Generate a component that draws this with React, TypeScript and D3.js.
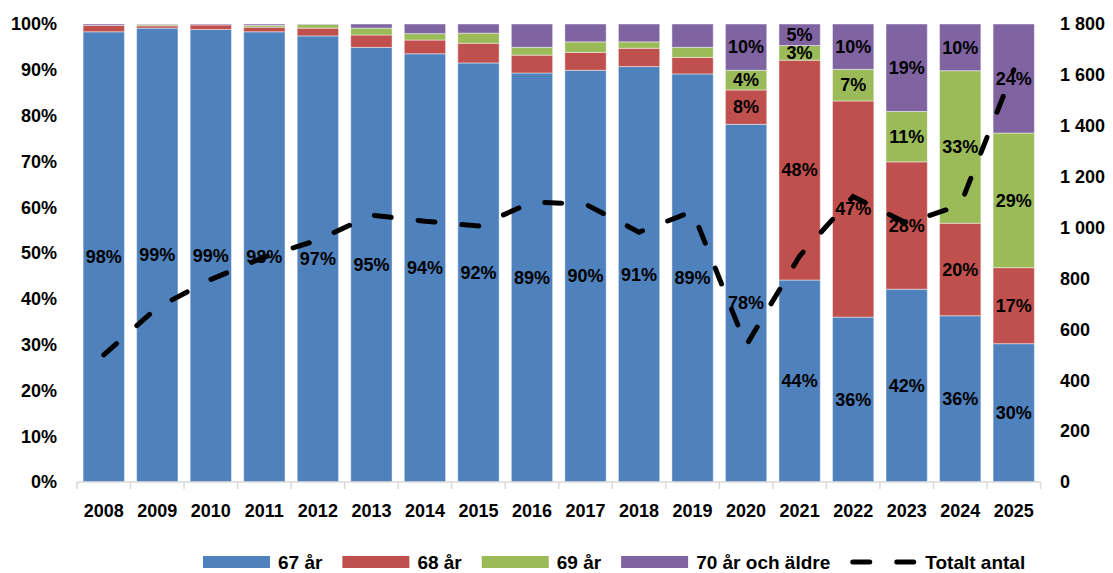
import React, { useEffect, useRef } from 'react';
import * as d3 from 'd3';

const years = ['2008', '2009', '2010', '2011', '2012', '2013', '2014', '2015', '2016', '2017', '2018', '2019', '2020', '2021', '2022', '2023', '2024', '2025'];

// andel per åldersgrupp (%)
const age67 = [98.3, 99.1, 98.8, 98.3, 97.4, 94.9, 93.5, 91.5, 89.3, 89.9, 90.7, 89.1, 78.1, 44.1, 36.0, 42.1, 36.3, 30.2];
const age68 = [1.4, 0.5, 1.0, 1.0, 1.7, 2.7, 3.0, 4.3, 3.9, 3.9, 4.0, 3.6, 7.5, 48.0, 47.2, 27.8, 20.2, 16.6];
const age69 = [0.0, 0.3, 0.0, 0.4, 0.8, 1.5, 1.4, 2.2, 1.7, 2.3, 1.4, 2.2, 4.3, 3.2, 6.9, 11.0, 33.3, 29.4];
const age70 = [0.3, 0.1, 0.2, 0.3, 0.1, 0.9, 2.1, 2.0, 5.1, 3.9, 3.9, 5.1, 10.1, 4.7, 9.9, 19.1, 10.2, 23.8];

// totalt antal (höger axel)
const totals = [500, 685, 796, 884, 951, 1049, 1025, 1006, 1100, 1092, 982, 1064, 536, 888, 1122, 1017, 1088, 1620];

const seriesNames = ['67 år', '68 år', '69 år', '70 år och äldre'];
const seriesColors = ['#4F81BD', '#C0504D', '#9BBB59', '#8064A2'];
const lineName = 'Totalt antal';

const leftTicks = [0, 10, 20, 30, 40, 50, 60, 70, 80, 90, 100];
const rightTicks = [0, 200, 400, 600, 800, 1000, 1200, 1400, 1600, 1800];

// år där alla segment får etikett (övriga bara blått)
const firstFullLabelYear = '2020';

const W = 1113;
const H = 573;
const FONT = '"Liberation Sans", Arial, sans-serif';

export default function App() {
  const ref = useRef<SVGSVGElement>(null);

  useEffect(() => {
    const svg = d3.select(ref.current);
    svg.selectAll('*').remove();

    const x = d3.scaleBand()
      .domain(years)
      .range([77, 1040.5])
      .paddingInner(0.228)
      .paddingOuter(0.114);

    const y = d3.scaleLinear().domain([0, 100]).range([482, 24]);
    const y2 = d3.scaleLinear().domain([0, 1800]).range([482, 24]);

    const rows = years.map((yr, i) => ({
      year: yr,
      [seriesNames[0]]: age67[i],
      [seriesNames[1]]: age68[i],
      [seriesNames[2]]: age69[i],
      [seriesNames[3]]: age70[i],
    }));

    const stacked = d3.stack().keys(seriesNames)(rows as any);
    const color = d3.scaleOrdinal<string, string>().domain(seriesNames).range(seriesColors);

    // staplar
    const groups = svg.append('g')
      .selectAll('g')
      .data(stacked)
      .enter().append('g')
      .attr('fill', (d: any) => color(d.key));

    groups.selectAll('rect')
      .data((d: any) => d)
      .enter().append('rect')
      .attr('x', (d: any) => x(d.data.year)!)
      .attr('y', (d: any) => y(d[1]))
      .attr('width', x.bandwidth())
      .attr('height', (d: any) => Math.max(0, y(d[0]) - y(d[1])))
      .attr('stroke', 'rgba(255,255,255,0.45)')
      .attr('stroke-width', 1);

    // x-axel
    const axisY = 482;
    const step = x.step();
    const x0 = x.range()[0];
    svg.append('line')
      .attr('x1', x0).attr('x2', x0 + step * years.length)
      .attr('y1', axisY).attr('y2', axisY)
      .attr('stroke', '#d9d9d9').attr('stroke-width', 1.5);
    svg.append('g')
      .selectAll('line')
      .data(d3.range(years.length + 1))
      .enter().append('line')
      .attr('x1', (i: number) => x0 + i * step)
      .attr('x2', (i: number) => x0 + i * step)
      .attr('y1', axisY).attr('y2', axisY + 7)
      .attr('stroke', '#d9d9d9').attr('stroke-width', 1.5);

    svg.append('g')
      .selectAll('text')
      .data(years)
      .enter().append('text')
      .attr('x', (d: string) => x(d)! + x.bandwidth() / 2)
      .attr('y', 517)
      .attr('text-anchor', 'middle')
      .text((d: string) => d);

    // vänster axel
    svg.append('g')
      .selectAll('text')
      .data(leftTicks)
      .enter().append('text')
      .attr('x', 57)
      .attr('y', (d: number) => y(d))
      .attr('dy', '0.35em')
      .attr('text-anchor', 'end')
      .text((d: number) => d + '%');

    // höger axel
    const fmt = d3.formatLocale({ decimal: ',', thousands: ' ', grouping: [3], currency: ['', ''] }).format(',d');
    svg.append('g')
      .selectAll('text')
      .data(rightTicks)
      .enter().append('text')
      .attr('x', 1060)
      .attr('y', (d: number) => y2(d))
      .attr('dy', '0.35em')
      .attr('text-anchor', 'start')
      .text((d: number) => fmt(d));

    // etiketter
    const labels: { x: number; y: number; t: string }[] = [];
    stacked.forEach((s: any, si: number) => {
      s.forEach((d: any) => {
        const v = d[1] - d[0];
        if (si > 0 && d.data.year < firstFullLabelYear) return;
        labels.push({
          x: x(d.data.year)! + x.bandwidth() / 2,
          y: (y(d[0]) + y(d[1])) / 2,
          t: Math.round(v) + '%',
        });
      });
    });
    svg.append('g')
      .selectAll('text')
      .data(labels)
      .enter().append('text')
      .attr('x', (d) => d.x)
      .attr('y', (d) => d.y)
      .attr('dy', '0.35em')
      .attr('text-anchor', 'middle')
      .text((d) => d.t);

    // linje
    const line = d3.line<number>()
      .x((_, i) => x(years[i])! + x.bandwidth() / 2)
      .y((d) => y2(d));
    svg.append('path')
      .datum(totals)
      .attr('d', line)
      .attr('fill', 'none')
      .attr('stroke', '#000')
      .attr('stroke-width', 5)
      .attr('stroke-dasharray', '17,27')
      .attr('stroke-linecap', 'round');

    // legend
    const legend = svg.append('g').attr('font-size', 19);
    let lx = 203;
    const ly = 562;
    seriesNames.forEach((name, i) => {
      legend.append('rect')
        .attr('x', lx).attr('y', ly - 6)
        .attr('width', 67).attr('height', 12)
        .attr('fill', seriesColors[i]);
      const t = legend.append('text')
        .attr('x', lx + 75).attr('y', ly)
        .attr('dy', '0.35em')
        .text(name);
      lx += 75 + (t.node() as SVGTextElement).getComputedTextLength() + 20;
    });
    legend.append('line')
      .attr('x1', lx + 2.5).attr('x2', lx + 67)
      .attr('y1', ly).attr('y2', ly)
      .attr('stroke', '#000')
      .attr('stroke-width', 5)
      .attr('stroke-dasharray', '17,27')
      .attr('stroke-linecap', 'round');
    legend.append('text')
      .attr('x', lx + 75).attr('y', ly)
      .attr('dy', '0.35em')
      .text(lineName);
  }, []);

  return (
    <svg
      ref={ref}
      width={W}
      height={H}
      style={{ position: 'absolute', left: 0, top: 0, background: '#fff' }}
      fontFamily={FONT}
      fontWeight="bold"
      fontSize={18}
      fill="#000"
    />
  );
}
